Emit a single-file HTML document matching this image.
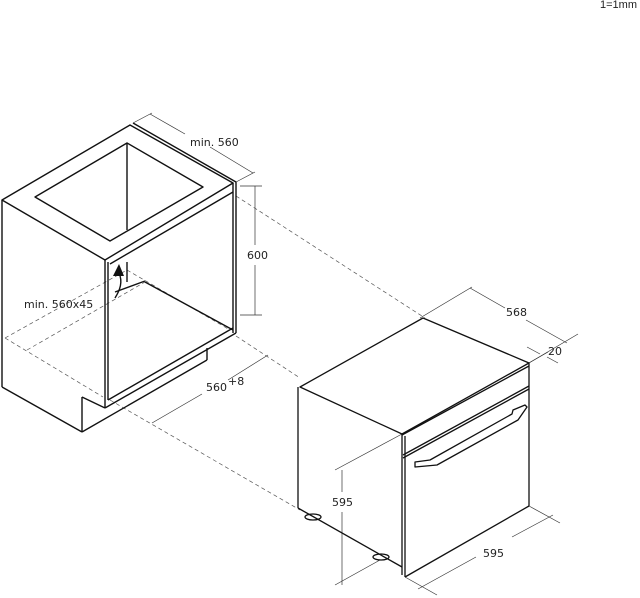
<!DOCTYPE html>
<html><head><meta charset="utf-8"><style>
html,body{margin:0;padding:0;background:#fff;width:640px;height:598px;overflow:hidden}
svg{display:block}
text{font-family:"DejaVu Sans","Liberation Sans",sans-serif;font-size:11px;fill:#222}
</style></head><body>
<svg width="640" height="598" viewBox="0 0 640 598" xmlns="http://www.w3.org/2000/svg">
<text x="600" y="8" font-size="10" style="font-family:'Liberation Sans',sans-serif">1=1mm</text>

<!-- dashed projection lines -->
<g stroke="#555" stroke-width="0.7" stroke-dasharray="4,3" fill="none">
<line x1="236" y1="196" x2="425" y2="318"/>
<line x1="236" y1="336" x2="300" y2="378"/>
<line x1="110" y1="400" x2="300" y2="510"/>
<line x1="5" y1="338" x2="127" y2="270"/>
<line x1="5" y1="338" x2="103" y2="397"/>
<line x1="27" y1="350" x2="145" y2="282"/>
<line x1="127" y1="270" x2="230" y2="330"/>
</g>

<!-- cabinet -->
<g stroke="#111" stroke-width="1.4" fill="none" stroke-linejoin="round">
<polygon points="2,200 130,125 233,183 105,260"/>
<line x1="133" y1="123" x2="236" y2="182"/>
<polygon points="35,197 127,143 203,187 110,241"/>
<line x1="127" y1="143" x2="127" y2="230"/>
<line x1="2" y1="200" x2="2" y2="387"/>
<line x1="105" y1="260" x2="105" y2="408"/>
<line x1="108" y1="262" x2="108" y2="400"/>
<line x1="233" y1="183" x2="233" y2="333"/>
<line x1="236" y1="182" x2="236" y2="333"/>
<line x1="110" y1="264" x2="233" y2="192"/>
<line x1="2" y1="387" x2="82" y2="432"/>
<line x1="82" y1="397" x2="82" y2="432"/>
<line x1="82" y1="397" x2="105" y2="408"/>
<line x1="82" y1="432" x2="207" y2="360"/>
<line x1="207" y1="348" x2="207" y2="360"/>
<line x1="105" y1="408" x2="236" y2="333"/>
<line x1="108" y1="400" x2="233" y2="328"/>
<line x1="127" y1="262" x2="127" y2="282"/>
<line x1="115" y1="292" x2="145" y2="281"/>
<line x1="145" y1="282" x2="233" y2="330"/>
<path d="M115,298 C120,290 123,282 119,273"/>
</g>
<polygon points="113,276 119,264 124,276" fill="#111"/>

<!-- dimension lines -->
<g stroke="#333" stroke-width="0.7" fill="none">
<line x1="133" y1="123" x2="152" y2="113"/>
<line x1="236" y1="182" x2="255" y2="172"/>
<line x1="150" y1="114" x2="185" y2="134"/>
<line x1="210" y1="147" x2="253" y2="173"/>
<line x1="240" y1="186" x2="262" y2="186"/>
<line x1="240" y1="315" x2="262" y2="315"/>
<line x1="255" y1="186" x2="255" y2="245"/>
<line x1="255" y1="265" x2="255" y2="315"/>
<line x1="152" y1="423" x2="202" y2="394"/>
<line x1="228" y1="380" x2="268" y2="355"/>
<line x1="420" y1="318" x2="472" y2="287"/>
<line x1="470" y1="288" x2="505" y2="308"/>
<line x1="526" y1="320" x2="567" y2="343"/>
<line x1="529" y1="363" x2="578" y2="334"/>
<line x1="527" y1="347" x2="540" y2="354"/>
<line x1="547" y1="357" x2="558" y2="363"/>
<line x1="527" y1="364" x2="548" y2="352"/>
<line x1="335" y1="470" x2="402" y2="434"/>
<line x1="335" y1="585" x2="380" y2="560"/>
<line x1="342" y1="470" x2="342" y2="492"/>
<line x1="342" y1="512" x2="342" y2="585"/>
<line x1="405" y1="577" x2="437" y2="595"/>
<line x1="529" y1="506" x2="560" y2="523"/>
<line x1="418" y1="589" x2="476" y2="557"/>
<line x1="512" y1="537" x2="553" y2="515"/>
</g>

<!-- oven -->
<g stroke="#111" stroke-width="1.3" fill="none" stroke-linejoin="round">
<polygon points="300,387 423,318 529,363 402,434"/>
<line x1="298" y1="387" x2="298" y2="508"/>
<line x1="298" y1="508" x2="402" y2="567"/>
<line x1="402" y1="434" x2="402" y2="575"/>
<line x1="405" y1="436" x2="405" y2="577"/>
<line x1="529" y1="363" x2="529" y2="506"/>
<line x1="402" y1="435" x2="529" y2="366"/>
<line x1="403" y1="458" x2="529" y2="389"/>
<line x1="403" y1="455" x2="529" y2="386"/>
<line x1="405" y1="577" x2="529" y2="506"/>
<polygon points="415,467 437,465 518,420 527,407 525,405 513,410 512,414 430,460 415,462"/>
<ellipse cx="313" cy="517" rx="8" ry="3"/>
<ellipse cx="381" cy="557" rx="8" ry="3"/>
</g>

<text x="190" y="146">min. 560</text>
<text x="247" y="259">600</text>
<text x="24" y="308">min. 560x45</text>
<text x="206" y="391">560</text><text x="228" y="385">+8</text>
<text x="506" y="316">568</text>
<text x="548" y="355">20</text>
<text x="332" y="506">595</text>
<text x="483" y="557">595</text>
</svg>
</body></html>
